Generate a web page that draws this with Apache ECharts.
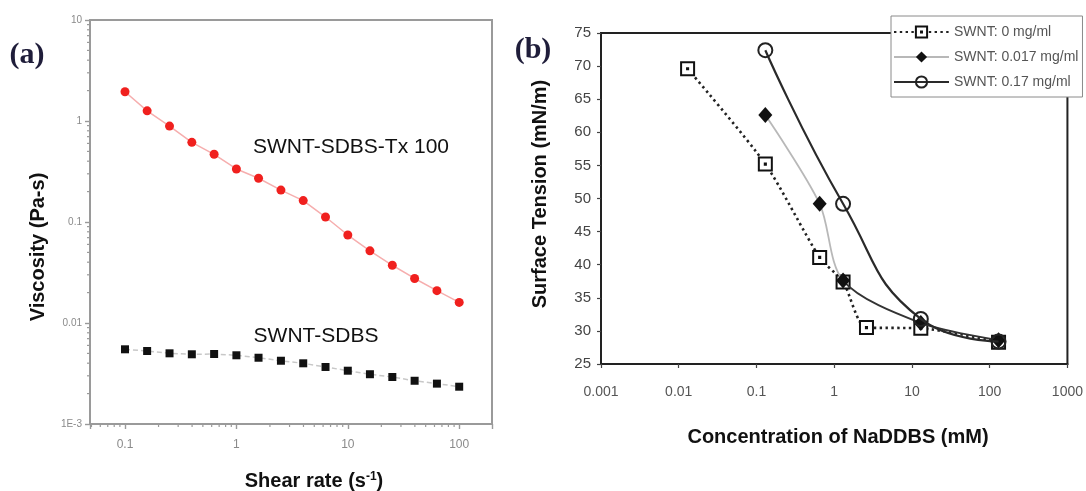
<!DOCTYPE html>
<html>
<head>
<meta charset="utf-8">
<script src="https://cdn.jsdelivr.net/npm/echarts@6/dist/echarts.min.js"></script>
<style>
  html, body { margin: 0; padding: 0; background: #ffffff; }
  #main { width: 1086px; height: 491px; }
</style>
</head>
<body>
<div id="main"></div>
<script>
// ---------- Panel (a): viscosity vs. shear rate ----------
const shearRate = [0.1, 0.158, 0.251, 0.398, 0.631, 1, 1.58, 2.51, 3.98, 6.31, 10, 15.8, 25.1, 39.8, 63.1, 100];
const viscTx100 = [1.95, 1.26, 0.89, 0.615, 0.468, 0.335, 0.271, 0.207, 0.163, 0.112, 0.0743, 0.0518, 0.0373, 0.0276, 0.0209, 0.016];
const viscSDBS  = [0.00549, 0.00528, 0.00501, 0.0049, 0.00493, 0.00479, 0.00453, 0.00423, 0.00399, 0.00367, 0.00337, 0.00311, 0.00292, 0.00268, 0.00251, 0.00234];

// log-axis minor tick positions for panel (a)
const shearMinorTicks = [0.05, 0.06, 0.07, 0.08, 0.09, 0.2, 0.3, 0.4, 0.5, 0.6, 0.7, 0.8, 0.9,
  2, 3, 4, 5, 6, 7, 8, 9, 20, 30, 40, 50, 60, 70, 80, 90];
const viscMinorTicks = [0.002, 0.003, 0.004, 0.005, 0.006, 0.007, 0.008, 0.009,
  0.02, 0.03, 0.04, 0.05, 0.06, 0.07, 0.08, 0.09,
  0.2, 0.3, 0.4, 0.5, 0.6, 0.7, 0.8, 0.9,
  2, 3, 4, 5, 6, 7, 8, 9];

// ---------- Panel (b): surface tension vs. NaDDBS concentration ----------
const concS0   = [0.013, 0.13, 0.65, 1.3, 2.6, 13, 130];
const tensS0   = [69.6, 55.2, 41.1, 37.4, 30.5, 30.4, 28.3];
const concS017 = [0.13, 0.65, 1.3, 13, 130];
const tensS017 = [62.6, 49.2, 37.6, 31.2, 28.6];
const concS17  = [0.13, 1.3, 13, 130];
const tensS17  = [72.4, 49.2, 31.8, 28.4];

const seriesNames = ['SWNT: 0 mg/ml', 'SWNT: 0.017 mg/ml', 'SWNT: 0.17 mg/ml'];
const tensionTicks = [25, 30, 35, 40, 45, 50, 55, 60, 65, 70, 75];

// axis ranges
const shearMin = 0.0485, shearMax = 197;
const viscMin = 0.001, viscMax = 10;
const concMin = 0.001, concMax = 1000;

// the 0.017 mg/ml curve is light grey up to this concentration and dark beyond it
const s017ShadeBreak = concS017[2];

const pairs = (xs, ys) => xs.map((x, i) => [x, ys[i]]);
const cleanNum = v => String(parseFloat(Number(v).toPrecision(6)));
const isDecade = v => Math.abs(Math.log10(v) - Math.round(Math.log10(v))) < 1e-6;

const chart = echarts.init(document.getElementById('main'), null, { renderer: 'canvas' });

const grayAxis = '#9a9a9a';
const lightLine = '#b8b8b8';
const darkLine = '#333333';
const sansFont = '"Liberation Sans", Arial, Helvetica, sans-serif';
const serifFont = '"Liberation Serif", "Times New Roman", serif';

// tick-mark renderers for the log minor ticks of panel (a)
function xMinorTick(params, api) {
  const p = api.coord([api.value(0), api.value(1)]);
  return { type: 'line', shape: { x1: p[0], y1: p[1], x2: p[0], y2: p[1] + 3 },
           style: { stroke: grayAxis, lineWidth: 1.2 } };
}
function yMinorTick(params, api) {
  const p = api.coord([api.value(0), api.value(1)]);
  return { type: 'line', shape: { x1: p[0], y1: p[1], x2: p[0] - 3, y2: p[1] },
           style: { stroke: grayAxis, lineWidth: 1.2 } };
}

const option = {
  animation: false,
  backgroundColor: '#ffffff',
  textStyle: { fontFamily: sansFont },
  grid: [
    { left: 90, top: 20, width: 402, height: 404, show: true, borderColor: grayAxis, borderWidth: 2 },
    { left: 601, top: 33, width: 469, height: 331, show: true, borderColor: '#222', borderWidth: 2 }
  ],
  xAxis: [
    {
      type: 'log', logBase: 10, gridIndex: 0, min: shearMin, max: shearMax,
      axisLine: { lineStyle: { color: grayAxis, width: 2 } },
      axisTick: { length: 5, lineStyle: { color: grayAxis, width: 1.4 } },
      axisLabel: { color: '#8a8a8a', fontSize: 12, margin: 15,
        formatter: v => isDecade(v) ? cleanNum(v) : '' },
      splitLine: { show: false }
    },
    {
      type: 'log', logBase: 10, gridIndex: 1, min: concMin, max: concMax,
      axisLine: { lineStyle: { color: '#222', width: 2 } },
      axisTick: { length: 4, lineStyle: { color: '#444', width: 1.2 } },
      axisLabel: { color: '#555', fontSize: 14, margin: 21, formatter: v => cleanNum(v) },
      splitLine: { show: false }
    }
  ],
  yAxis: [
    {
      type: 'log', logBase: 10, gridIndex: 0, min: viscMin, max: viscMax,
      axisLine: { lineStyle: { color: grayAxis, width: 2 } },
      axisTick: { length: 5, lineStyle: { color: grayAxis, width: 1.4 } },
      axisLabel: { color: '#8a8a8a', fontSize: 10, margin: 8,
        formatter: v => (v < 0.0011 ? '1E-3' : cleanNum(v)) },
      splitLine: { show: false }
    },
    {
      type: 'value', gridIndex: 1, min: tensionTicks[0], max: tensionTicks[tensionTicks.length - 1], interval: 5,
      axisLine: { show: true, lineStyle: { color: '#222', width: 2 } },
      axisTick: { show: true, length: 4, lineStyle: { color: '#444', width: 1.2 } },
      axisLabel: { color: '#444', fontSize: 15, margin: 10 },
      splitLine: { show: false }
    }
  ],
  legend: {
    data: [
      { name: seriesNames[0] },
      { name: seriesNames[1], lineStyle: { color: lightLine } },
      { name: seriesNames[2] }
    ],
    orient: 'vertical',
    left: 891, top: 16,
    padding: [9, 4, 8, 2],
    itemWidth: 55, itemHeight: 14, itemGap: 11,
    backgroundColor: '#ffffff',
    borderColor: '#8a8a8a', borderWidth: 1,
    textStyle: { color: '#555', fontSize: 14, fontFamily: sansFont },
    selectedMode: false
  },
  series: [
    // panel (a)
    {
      name: 'SWNT-SDBS-Tx 100', type: 'line', xAxisIndex: 0, yAxisIndex: 0,
      data: pairs(shearRate, viscTx100),
      symbol: 'circle', symbolSize: 9,
      itemStyle: { color: '#f0201e' },
      lineStyle: { color: '#f6aeae', width: 1.5 },
      z: 3
    },
    {
      name: 'SWNT-SDBS', type: 'line', xAxisIndex: 0, yAxisIndex: 0,
      data: pairs(shearRate, viscSDBS),
      symbol: 'rect', symbolSize: 8,
      itemStyle: { color: '#111' },
      lineStyle: { color: '#c8c8c8', width: 1.5, type: [5, 3] },
      z: 3
    },
    {
      type: 'custom', xAxisIndex: 0, yAxisIndex: 0, silent: true, clip: false,
      data: shearMinorTicks.map(v => [v, viscMin]),
      renderItem: xMinorTick, z: 1
    },
    {
      type: 'custom', xAxisIndex: 0, yAxisIndex: 0, silent: true, clip: false,
      data: viscMinorTicks.map(v => [shearMin, v]),
      renderItem: yMinorTick, z: 1
    },
    // panel (b)
    {
      name: seriesNames[0], type: 'line', xAxisIndex: 1, yAxisIndex: 1,
      data: pairs(concS0, tensS0),
      smooth: 0.25,
      symbol: 'path://M0,0H14V14H0Z M6.4,6.4H7.6V7.6H6.4Z', symbolSize: 13,
      itemStyle: { color: '#ffffff', borderColor: '#111', borderWidth: 2 },
      lineStyle: { color: '#222', width: 2.6, type: [2.4, 3.4] },
      z: 4
    },
    {
      id: 's017',
      name: seriesNames[1], type: 'line', xAxisIndex: 1, yAxisIndex: 1,
      data: pairs(concS017, tensS017),
      smooth: 0.3,
      symbol: 'diamond', symbolSize: [14, 16],
      itemStyle: { color: '#111' },
      lineStyle: { color: lightLine, width: 1.8 },
      z: 5
    },
    {
      name: seriesNames[2], type: 'line', xAxisIndex: 1, yAxisIndex: 1,
      data: pairs(concS17, tensS17),
      smooth: 0.5,
      symbol: 'circle', symbolSize: 14,
      itemStyle: { color: 'rgba(255,255,255,0)', borderColor: '#222', borderWidth: 2 },
      lineStyle: { color: '#2a2a2a', width: 2.2 },
      z: 6
    }
  ],
  graphic: [
    { type: 'text', x: 27, y: 55, z: 10,
      style: { text: '(a)', fontSize: 30, fontWeight: 'bold', fontFamily: serifFont,
               fill: '#1f1d3a', align: 'center', verticalAlign: 'middle' } },
    { type: 'text', x: 533, y: 50, z: 10,
      style: { text: '(b)', fontSize: 30, fontWeight: 'bold', fontFamily: serifFont,
               fill: '#1f1d3a', align: 'center', verticalAlign: 'middle' } },
    { type: 'text', x: 38, y: 247, rotation: Math.PI / 2, z: 10,
      style: { text: 'Viscosity (Pa-s)', fontSize: 20, fontWeight: 'bold', fontFamily: sansFont,
               fill: '#111', align: 'center', verticalAlign: 'middle' } },
    { type: 'text', x: 314, y: 481, z: 10,
      style: { text: '{t|Shear rate (s}{s|-1}{t|)}', align: 'center', verticalAlign: 'middle',
               rich: {
                 t: { fontSize: 20, fontWeight: 'bold', fontFamily: sansFont, fill: '#111', color: '#111' },
                 s: { fontSize: 12, fontWeight: 'bold', fontFamily: sansFont, fill: '#111', color: '#111', verticalAlign: 'top' }
               } } },
    { type: 'text', x: 351, y: 147, z: 10,
      style: { text: 'SWNT-SDBS-Tx 100', fontSize: 21, fontFamily: sansFont,
               fill: '#111', align: 'center', verticalAlign: 'middle' } },
    { type: 'text', x: 316, y: 336, z: 10,
      style: { text: 'SWNT-SDBS', fontSize: 21, fontFamily: sansFont,
               fill: '#111', align: 'center', verticalAlign: 'middle' } },
    { type: 'text', x: 540, y: 194, rotation: Math.PI / 2, z: 10,
      style: { text: 'Surface Tension (mN/m)', fontSize: 20, fontWeight: 'bold', fontFamily: sansFont,
               fill: '#111', align: 'center', verticalAlign: 'middle' } },
    { type: 'text', x: 838, y: 437, z: 10,
      style: { text: 'Concentration of NaDDBS (mM)', fontSize: 20, fontWeight: 'bold', fontFamily: sansFont,
               fill: '#111', align: 'center', verticalAlign: 'middle' } }
  ]
};

chart.setOption(option);

// shade the 0.017 mg/ml curve: light up to the break concentration, dark after it
const breakPx = chart.convertToPixel({ xAxisIndex: 1 }, s017ShadeBreak);
const chartWidth = chart.getWidth();
const k = Math.min(Math.max(breakPx / chartWidth, 0), 1);
chart.setOption({
  series: [{
    id: 's017',
    lineStyle: {
      color: new echarts.graphic.LinearGradient(0, 0, chartWidth, 0, [
        { offset: 0, color: lightLine },
        { offset: k, color: lightLine },
        { offset: k, color: darkLine },
        { offset: 1, color: darkLine }
      ], true)
    }
  }]
});
</script>
</body>
</html>
